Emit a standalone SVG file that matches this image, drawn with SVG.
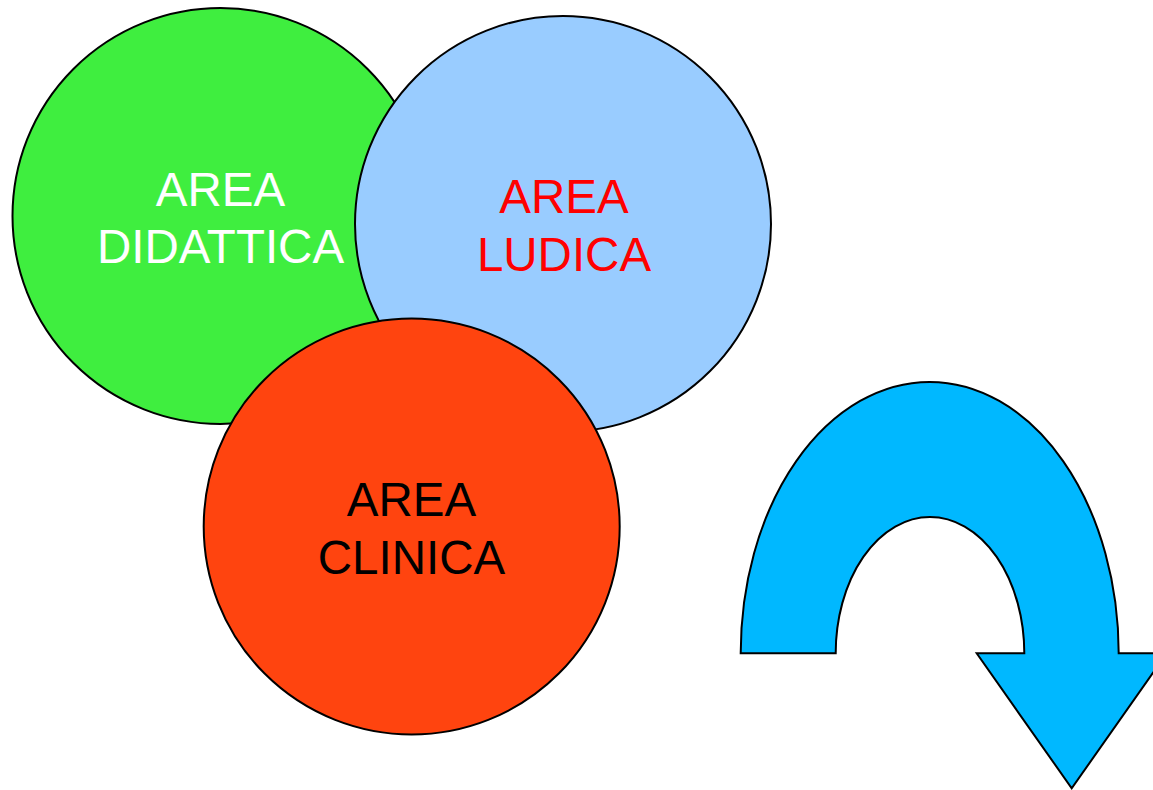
<svg xmlns="http://www.w3.org/2000/svg" width="1153" height="790" viewBox="0 0 1153 790">
<style>
.c{stroke:#000;stroke-width:2}
.t{font-family:"Liberation Sans",Arial,sans-serif;font-size:47.5px;text-anchor:middle}
</style>
<rect width="1153" height="790" fill="#fff"/>
<g id="area-didattica">
<circle class="c" cx="220.5" cy="216" r="208" fill="#3FEE3F"/>
<text class="t" fill="#fff"><tspan x="220.5" y="206">AREA</tspan><tspan x="220.5" y="263">DIDATTICA</tspan></text>
</g>
<g id="area-ludica">
<circle class="c" cx="563" cy="224" r="208" fill="#99CCFF"/>
<text class="t" fill="#FF0000"><tspan x="564" y="213">AREA</tspan><tspan x="564" y="271">LUDICA</tspan></text>
</g>
<g id="area-clinica">
<circle class="c" cx="411.7" cy="526.5" r="208" fill="#FF440F"/>
<text class="t" fill="#000"><tspan x="411.5" y="516">AREA</tspan><tspan x="411.5" y="574">CLINICA</tspan></text>
</g>
<g id="u-turn-arrow">
<path class="c" fill="#00B8FF" d="M740.7,653.3 A189,271.5 0 0 1 1118.7,653.3 L1166.7,653.3 L1071.7,788.3 L976.7,653.3 L1024.3,653.3 A94.3,136.3 0 0 0 835.7,653.3 Z"/>
</g>
<g id="connectors"/>
</svg>
